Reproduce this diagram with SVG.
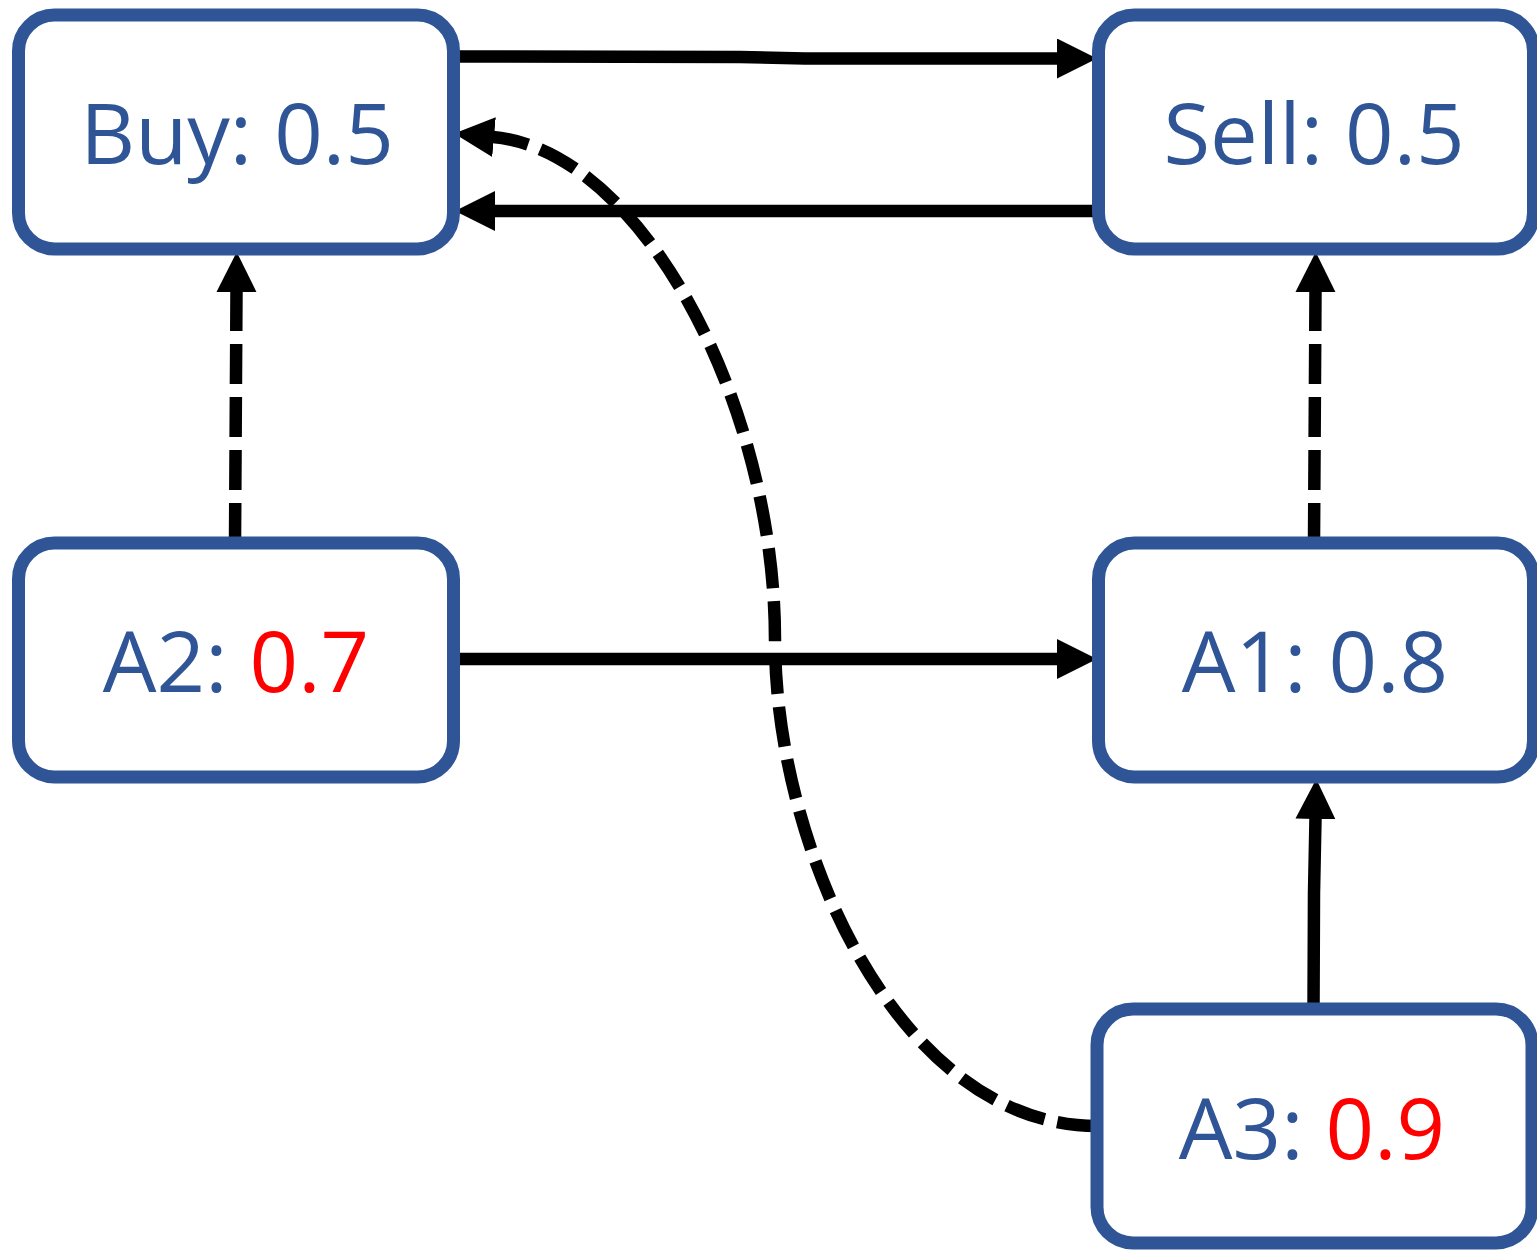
<svg xmlns="http://www.w3.org/2000/svg" width="1537" height="1250" viewBox="0 0 1537 1250">
  <style>
    .box { fill: #ffffff; stroke: #2F5597; stroke-width: 13; }
    .lbl { font-family: "Open Sans", "Liberation Sans", sans-serif; font-size: 85px; fill: #2F5597; text-anchor: middle; }
    .red { fill: #FF0000; }
    .conn { fill: none; stroke: #000000; stroke-width: 12.5; stroke-linecap: butt; }
    .dash { stroke-dasharray: 40 13; }
  </style>
  <defs>
    <marker id="arrow" markerUnits="userSpaceOnUse" markerWidth="42" markerHeight="42" refX="1" refY="20" orient="auto" viewBox="0 0 42 42">
      <path d="M0,0 L40,20 L0,40 Z" fill="#000000"/>
    </marker>
  </defs>
  <rect width="1537" height="1250" fill="#ffffff"/>

  <g id="connectors">
    <path class="conn" d="M455,56.5 L740,57 L805,58.5 L1058,58.5" marker-end="url(#arrow)"/>
    <path class="conn" d="M1097,211 L494,211" marker-end="url(#arrow)"/>
    <path class="conn" d="M455,659 L1058,659" marker-end="url(#arrow)"/>
    <path class="conn dash" d="M235,543 L236.5,291" marker-end="url(#arrow)"/>
    <path class="conn dash" d="M1314,543 L1315.5,291" marker-end="url(#arrow)"/>
    <path class="conn" d="M1313.5,1008 L1314,893 L1315.5,818" marker-end="url(#arrow)"/>
    <path class="conn dash" d="M1097,1126 C900,1126 775,850 775,640 C775,400 640,150 493,137" marker-end="url(#arrow)"/>
  </g>

  <g id="node-buy">
    <rect class="box" x="18.5" y="15" width="435" height="234" rx="36"/>
    <text class="lbl" x="237" y="164">Buy: 0.5</text>
  </g>
  <g id="node-sell">
    <rect class="box" x="1098.5" y="15" width="435" height="234" rx="36"/>
    <text class="lbl" x="1314" y="164">Sell: 0.5</text>
  </g>
  <g id="node-a2">
    <rect class="box" x="18.5" y="543" width="435" height="234" rx="36"/>
    <text class="lbl" x="236" y="692">A2: <tspan class="red">0.7</tspan></text>
  </g>
  <g id="node-a1">
    <rect class="box" x="1098.5" y="543" width="435" height="234" rx="36"/>
    <text class="lbl" x="1315" y="692">A1: 0.8</text>
  </g>
  <g id="node-a3">
    <rect class="box" x="1097" y="1009" width="435" height="234" rx="36"/>
    <text class="lbl" x="1312" y="1159">A3: <tspan class="red">0.9</tspan></text>
  </g>
</svg>
